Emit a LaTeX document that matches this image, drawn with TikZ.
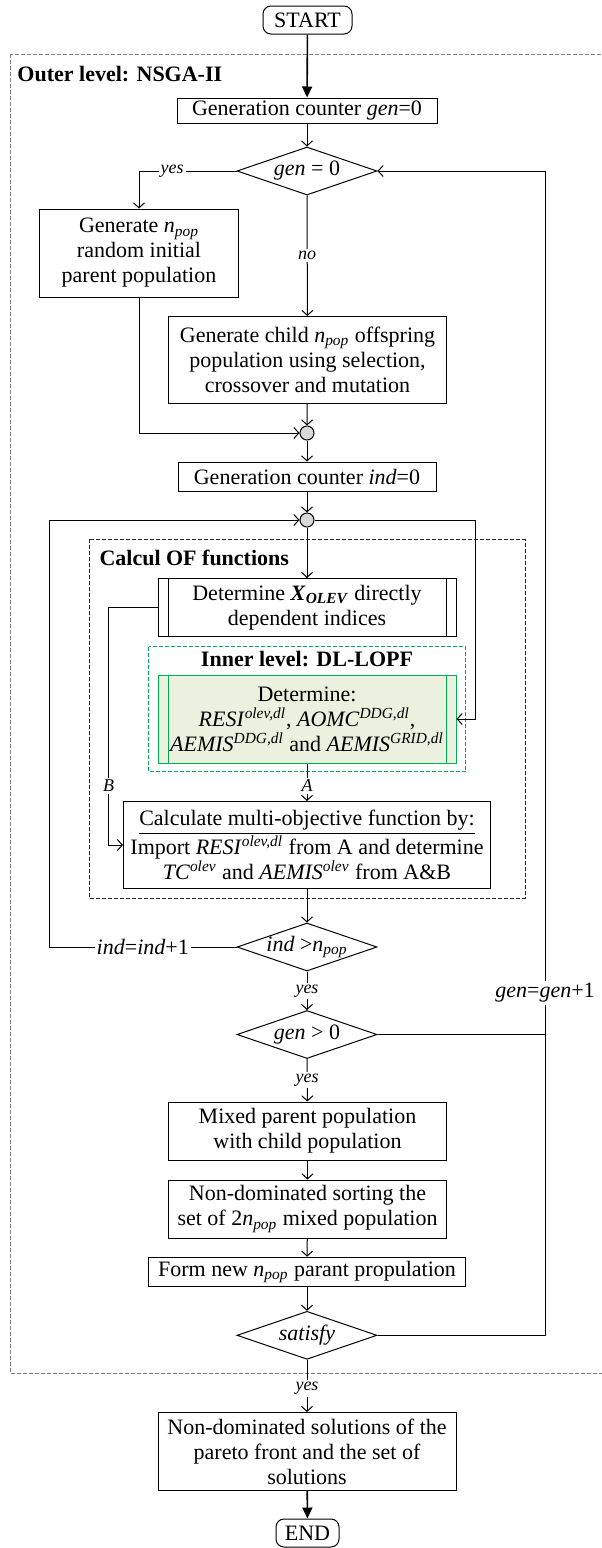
\documentclass[tikz,border=0pt]{standalone}
\usepackage{fontspec}
\setmainfont{Liberation Serif}
\usepackage{xcolor}
\usepackage{tikz}
\usetikzlibrary{
  shapes.geometric,
  arrows.meta,
  positioning,
  calc
}
\definecolor{greenline}{RGB}{0, 176, 80}
\definecolor{greenfill}{RGB}{235, 241, 222}
\definecolor{framegray}{RGB}{128, 128, 128}
\definecolor{joingray}{RGB}{217, 217, 217}
\newcommand{\npop}{\textit{n}\textsubscript{\textit{pop}}}
\newcommand{\supvar}[2]{\textit{#1}\textsuperscript{\textit{#2}}}

\begin{document}
\begin{tikzpicture}[
  x=0.5pt, y=-0.5pt,
  line width=0.5pt,
  every node/.style={font=\fontsize{11}{12.5}\selectfont}
]
  % Styles
  \tikzstyle{process} = [rectangle, draw, align=center, inner xsep=2pt, inner ysep=0pt]
  \tikzstyle{subproc} = [process, path picture={
      \draw ([xshift=5pt]path picture bounding box.north west) -- ([xshift=5pt]path picture bounding box.south west);
      \draw ([xshift=-5pt]path picture bounding box.north east) -- ([xshift=-5pt]path picture bounding box.south east);}]
  \tikzstyle{terminal} = [rectangle, rounded corners=4pt, draw, inner sep=0pt]
  \tikzstyle{decision} = [diamond, draw, aspect=2.9, inner sep=-3pt, minimum width=70pt, minimum height=24pt]
  \tikzstyle{junction} = [circle, draw, fill=joingray, minimum size=7pt, inner sep=0pt]
  \tikzstyle{flow} = [-{Straight Barb[length=2.5pt, width=5.5pt]}]
  \tikzstyle{bigflow} = [-{Triangle[length=5.5pt, width=5pt]}, line width=0.8pt]
  \tikzstyle{tag} = [fill=white, inner sep=1pt, font=\fontsize{9}{10}\selectfont\itshape]
  \tikzstyle{note} = [fill=white, inner sep=1pt]
  \tikzstyle{levelbox} = [draw=framegray, dash pattern=on 2pt off 1pt]
  \tikzstyle{title} = [inner sep=0pt, font=\fontsize{11}{12.5}\selectfont\bfseries]

  \useasboundingbox (0,0) rectangle (601,1548);

  % Level frames
  \draw[levelbox] (10,54) rectangle (603,1373.3);
  \draw[levelbox, draw=black!85] (89,539.3) rectangle (525,898);
  \draw[levelbox, draw=greenline] (148.7,646.7) rectangle (465.7,771.7);
  \node[title, anchor=base west] (outertitle) at (17,81) {Outer level: NSGA-II};
  \node[title, anchor=base west] (calctitle) at (99,565.5) {Calcul OF functions};
  \node[title, anchor=base] (innertitle) at (307,666.5) {Inner level: DL-LOPF};

  % Start and initial population
  \node[terminal, minimum width=44.5pt, minimum height=14pt] (start) at (307.5,20) {START};
  \node[process, minimum width=130pt, minimum height=12.5pt] (gen0) at (307,110.5) {Generation counter \textit{gen}=0};
  \node[decision] (gentest) at (307,171) {\textit{gen} = 0};
  \node[process, minimum width=99.5pt, minimum height=44pt] (init) at (139,253) {Generate \npop\\random initial\\parent population};
  \node[process, minimum width=139pt, minimum height=43.5pt] (child) at (307.5,360) {Generate child \npop{} offspring\\population using selection,\\crossover and mutation};
  \node[junction] (join1) at (307,433) {};
  \node[process, minimum width=129pt, minimum height=14.5pt] (ind0) at (307,476.5) {Generation counter \textit{ind}=0};
  \node[junction] (join2) at (307,520) {};

  % Objective functions
  \node[subproc, minimum width=149pt, minimum height=29pt] (xolev) at (307,607.5) {Determine \textbf{\textit{X}\textsubscript{\textit{OLEV}}} directly\\dependent indices};
  \node[subproc, draw=greenline, color=greenline, text=black, fill=greenfill, minimum width=149pt, minimum height=44pt] (lopf) at (307,719) {Determine:\\\supvar{RESI}{olev,dl}, \supvar{AOMC}{DDG,dl},\\\supvar{AEMIS}{DDG,dl} and \supvar{AEMIS}{GRID,dl}};
  \node[process, minimum width=183.5pt, minimum height=43.5pt] (multi) at (307,845) {\underline{Calculate multi-objective function by:}\\Import \supvar{RESI}{olev,dl} from A and determine\\\supvar{TC}{olev} and \supvar{AEMIS}{olev} from A\&B};
  \node[decision] (indtest) at (307,947) {\textit{ind} >\npop};
  \node[decision] (gentest2) at (307,1034.5) {\textit{gen} > 0};

  % New parent population
  \node[process, minimum width=139pt, minimum height=29pt] (mixed) at (307.5,1131) {Mixed parent population\\with child population};
  \node[process, minimum width=139pt, minimum height=29pt] (sorting) at (307.5,1209) {Non-dominated sorting the\\set of 2\npop{} mixed population};
  \node[process, minimum width=158.5pt, minimum height=14.5pt] (newpop) at (307,1271.7) {Form new \npop{} parant propulation};
  \node[decision] (stop) at (307,1335.3) {\textit{satisfy}};

  % Output
  \node[process, minimum width=149pt, minimum height=39pt] (front) at (307,1451.5) {Non-dominated solutions of the\\pareto front and the set of\\solutions};
  \node[terminal, minimum width=31.5pt, minimum height=14pt] (end) at (307.5,1533) {END};

  % Loop corners
  \coordinate (rtop) at (545,171);
  \coordinate (rbot) at (545,1335.3);
  \coordinate (lloop) at (49,947);
  \coordinate (rloop) at (475,520);
  \coordinate (bturn) at (108.5,607.5);

  % Arrows
  \draw[bigflow] (start) -- (gen0);
  \draw[flow] (gen0) -- (gentest);
  \draw[flow] (gentest.west) -| node[tag, pos=0.33] {yes} (init.north);
  \draw[flow] (gentest) -- node[tag] {no} (child);
  \draw[flow] (init.south) |- (join1.west);
  \draw[flow] (child) -- (join1);
  \draw[flow] (join1) -- (ind0);
  \draw[flow] (ind0) -- (join2);
  \draw[flow] (join2) -- (xolev);
  \draw[flow] (join2.east) -- (rloop) |- (lopf.east);
  \draw[flow] (xolev.west) -- (bturn) |- node[tag, pos=0.375] {B} (multi.west);
  \draw[flow] (lopf) -- node[tag, pos=0.59] {A} (multi);
  \draw[flow] (multi) -- (indtest);
  \draw[flow] (indtest.west) -- node[note] {\textit{ind}=\textit{ind}+1} (lloop) |- (join2.west);
  \draw[flow] (indtest) -- node[tag] {yes} (gentest2);
  \draw (gentest2.east) -- (gentest2.east -| rbot);
  \draw[flow] (gentest2) -- node[tag] {yes} (mixed);
  \draw[flow] (mixed) -- (sorting);
  \draw[flow] (sorting) -- (newpop);
  \draw[flow] (newpop) -- (stop);
  \draw[flow] (stop.east) -- (rbot) -- node[note, pos=0.294] {\textit{gen}=\textit{gen}+1} (rtop) -- (gentest.east);
  \draw[flow] (stop) -- node[tag, pos=0.55] {yes} (front);
  \draw[bigflow] (front) -- (end);
\end{tikzpicture}
\end{document}
